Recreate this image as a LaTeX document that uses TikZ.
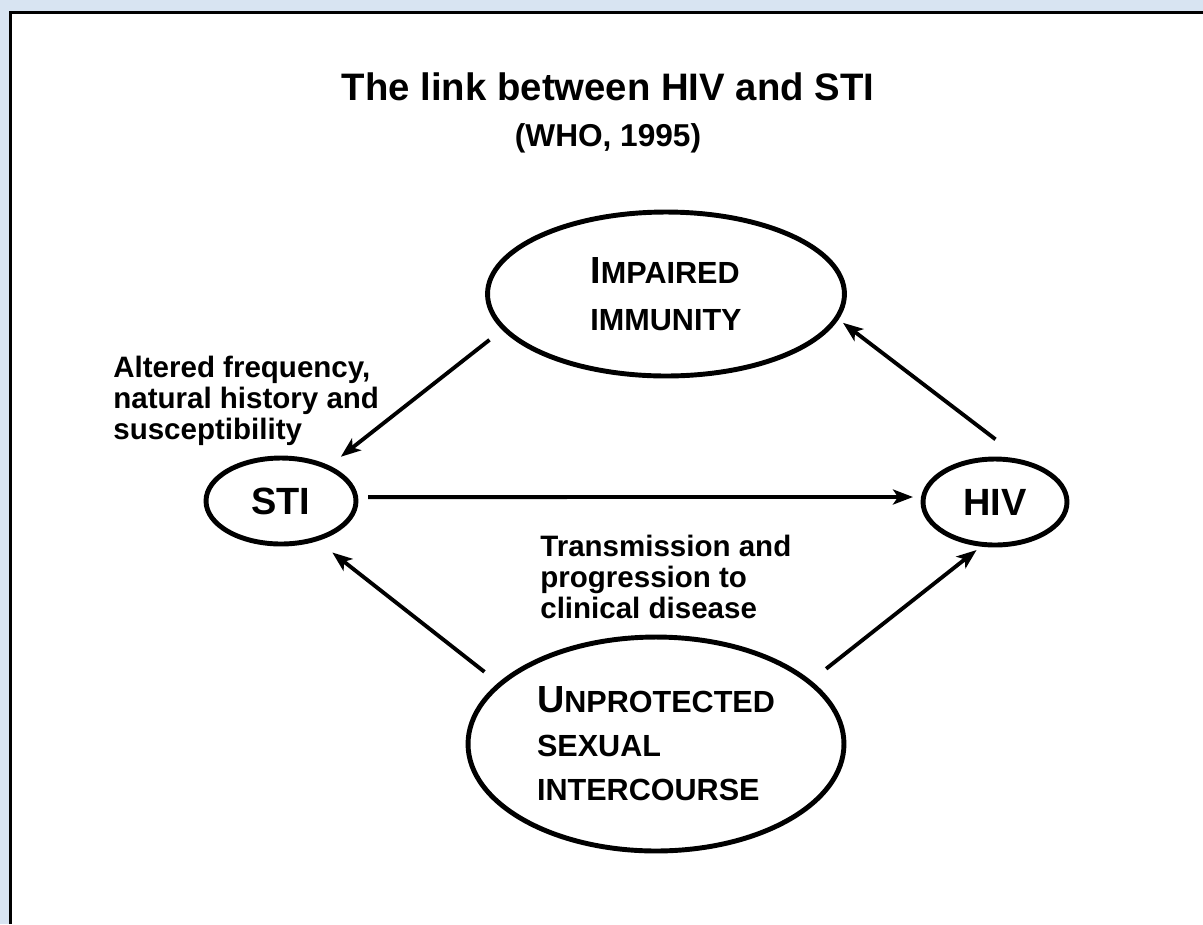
\documentclass[tikz,border=0pt]{standalone}
\usepackage{fontspec}
\setmainfont{Liberation Sans}
\usetikzlibrary{shapes.geometric,arrows.meta}
\definecolor{paleblue}{RGB}{216,228,242}
\newcommand{\initcap}[1]{{\fontsize{21.5}{26}\selectfont #1}}

\begin{document}
\begin{tikzpicture}[x=0.02cm,y=-0.02cm,
  oval/.style={ellipse,draw,line width=2.8pt,inner sep=0pt,outer sep=0pt,align=left},
  caption/.style={align=left,inner sep=0pt,anchor=north west,font=\fontsize{16.8}{17.6}\selectfont\bfseries},
  link/.style={-{Stealth[length=0.4cm,width=0.3cm,inset=0.1cm]},line width=2.2pt}]
\useasboundingbox (0,0) rectangle (1203,924);
% page and frame
\fill[paleblue] (0,0) rectangle (1203,924);
\fill[white] (10.5,12.5) rectangle (1203,924);
\draw[line width=1.7pt] (10.5,924) -- (10.5,12.5) -- (1203,12.5);

\node[anchor=base,font=\fontsize{21.8}{26}\selectfont\bfseries] (title) at (608,100) {The link between HIV and STI};
\node[anchor=base,font=\fontsize{18}{21}\selectfont\bfseries] (source) at (608,146) {(WHO, 1995)};

\node[oval,minimum width=7.14cm,minimum height=3.28cm,font=\fontsize{17.4}{26.7}\selectfont\bfseries] (imm) at (666,294)
  {\initcap{I}MPAIRED\\IMMUNITY};
\node[oval,minimum width=3cm,minimum height=1.72cm,font=\fontsize{21.6}{26}\selectfont\bfseries] (sti) at (281,501) {STI};
\node[oval,minimum width=2.88cm,minimum height=1.72cm,font=\fontsize{21.6}{26}\selectfont\bfseries] (hiv) at (995,502) {HIV};
\node[oval,minimum width=7.52cm,minimum height=4.28cm,font=\fontsize{17.4}{25}\selectfont\bfseries] (usi) at (656,744)
  {\initcap{U}NPROTECTED\\SEXUAL\\INTERCOURSE};

\node[caption] (altered) at (113,356) {Altered frequency,\\natural history and\\susceptibility};
\node[caption] (transm) at (540,535) {Transmission and\\progression to\\clinical disease};

\draw[link,shorten <=0.37cm,shorten >=0.34cm] (imm.192.1) -- (sti.36.8);
\draw[link,shorten <=0.25cm,shorten >=0.21cm] (sti.3.5) -- (hiv.176);
\draw[link,shorten <=0.4cm,shorten >=0.43cm] (usi.159.6) -- (sti.312.7);
\draw[link,shorten <=0.43cm,shorten >=0.18cm] (usi.22.4) -- (hiv.255.6);
\draw[link,shorten <=0.8cm,shorten >=0.16cm] (hiv.50.6) -- (imm.352.3);
\end{tikzpicture}
\end{document}
